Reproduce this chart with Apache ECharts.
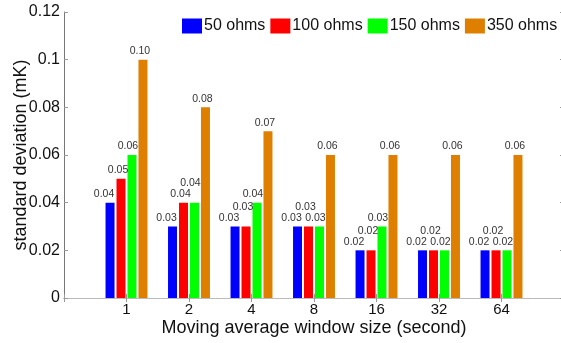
<!DOCTYPE html>
<html>
<head>
<meta charset="utf-8">
<script src="https://cdn.jsdelivr.net/npm/echarts@6/dist/echarts.min.js"></script>
<style>
html,body{margin:0;padding:0;background:#fff;}
#c{width:561px;height:343px;}
</style>
</head>
<body>
<div id="c"></div>
<script>
var categories = ['1', '2', '4', '8', '16', '32', '64'];
var seriesNames = ['50 ohms', '100 ohms', '150 ohms', '350 ohms'];
var ohms50  = [0.04, 0.03, 0.03, 0.03, 0.02, 0.02, 0.02];
var ohms100 = [0.05, 0.04, 0.03, 0.03, 0.02, 0.02, 0.02];
var ohms150 = [0.06, 0.04, 0.04, 0.03, 0.03, 0.02, 0.02];
var ohms350 = [0.10, 0.08, 0.07, 0.06, 0.06, 0.06, 0.06];
var yTicks = [0, 0.02, 0.04, 0.06, 0.08, 0.1, 0.12];

var colors = ['#0000FF', '#FF0000', '#00FF00', '#DE7F00'];
var labelShift = [-6, -3, -4, -3];
var allVals = [ohms50, ohms100, ohms150, ohms350];

// pad categories so the axis spans one slot beyond each side
var cats = [''].concat(categories).concat(['']);

// decide which labels are lifted to avoid overlapping their left neighbour
var raised = allVals.map(function(){ return []; });
for (var i = 0; i < categories.length; i++) {
  for (var s = 0; s < allVals.length; s++) {
    raised[s][i] = s > 0 && !raised[s-1][i] && Math.abs(allVals[s][i] - allVals[s-1][i]) < 1e-9;
  }
}

var FONT = 'Liberation Sans, Arial, Helvetica, sans-serif';
var chart = echarts.init(document.getElementById('c'), null, {renderer: 'canvas'});

var series = allVals.map(function(vals, s){
  return {
    name: seriesNames[s],
    type: 'bar',
    xAxisIndex: 0,
    yAxisIndex: 0,
    barWidth: 9,
    barGap: '22%',
    itemStyle: {color: colors[s]},
    data: [null].concat(vals).concat([null]),
    label: {
      show: true,
      position: 'top',
      distance: 3,
      fontSize: 10.5,
      fontFamily: FONT,
      color: '#333',
      formatter: function(p){ return p.value == null ? '' : Number(p.value).toFixed(2); }
    },
    labelLayout: function(p){
      var idx = p.dataIndex - 1;
      var out = {dx: labelShift[s]};
      if (idx >= 0 && raised[s][idx]) out.dy = -11;
      return out;
    }
  };
});

chart.setOption({
  animation: false,
  backgroundColor: '#fff',
  textStyle: {fontFamily: FONT},
  grid: {left: 64, top: 12, width: 500, height: 286, containLabel: false, outerBoundsMode: 'none'},
  legend: {
    data: seriesNames,
    left: 182,
    top: 18,
    itemWidth: 20,
    itemHeight: 15,
    itemGap: 5,
    icon: 'rect',
    backgroundColor: '#fff',
    padding: 0,
    textStyle: {fontSize: 16, color: '#111', fontFamily: FONT, padding: [0, 0, 0, -3]}
  },
  xAxis: [{
    type: 'category',
    data: cats,
    boundaryGap: false,
    position: 'bottom',
    name: 'Moving average window size (second)',
    nameLocation: 'middle',
    nameGap: 21,
    nameMoveOverlap: false,
    nameTextStyle: {fontSize: 18, color: '#111', fontFamily: FONT},
    axisLine: {show: true, lineStyle: {color: '#777', width: 1}},
    axisTick: {show: true, inside: true, length: 4, lineStyle: {color: '#999'}},
    axisLabel: {fontSize: 15, color: '#111', margin: 4, fontFamily: FONT, interval: 0},
    splitLine: {show: false}
  }, {
    type: 'category',
    data: cats,
    boundaryGap: false,
    position: 'top',
    axisLine: {show: true, lineStyle: {color: '#bbb', width: 1}},
    axisTick: {show: true, inside: true, length: 4, lineStyle: {color: '#999'}},
    axisLabel: {show: false},
    splitLine: {show: false}
  }],
  yAxis: [{
    type: 'value',
    min: 0,
    max: 0.12,
    interval: 0.02,
    position: 'left',
    name: 'standard deviation (mK)',
    nameLocation: 'middle',
    nameGap: 34,
    nameMoveOverlap: false,
    nameTextStyle: {fontSize: 18, color: '#111', fontFamily: FONT},
    axisLine: {show: true, lineStyle: {color: '#777', width: 1}},
    axisTick: {show: true, inside: true, length: 4, lineStyle: {color: '#999'}},
    axisLabel: {
      fontSize: 16, color: '#111', margin: 4, fontFamily: FONT,
      formatter: function(v){
        for (var k = 0; k < yTicks.length; k++) if (Math.abs(yTicks[k] - v) < 1e-9) return String(yTicks[k]);
        return '';
      }
    },
    splitLine: {show: false}
  }, {
    type: 'value',
    min: 0,
    max: 0.12,
    interval: 0.02,
    position: 'right',
    axisLine: {show: true, lineStyle: {color: '#bbb', width: 1}},
    axisTick: {show: true, inside: true, length: 4, lineStyle: {color: '#999'}},
    axisLabel: {show: false},
    splitLine: {show: false}
  }],
  series: series
});
</script>
</body>
</html>
